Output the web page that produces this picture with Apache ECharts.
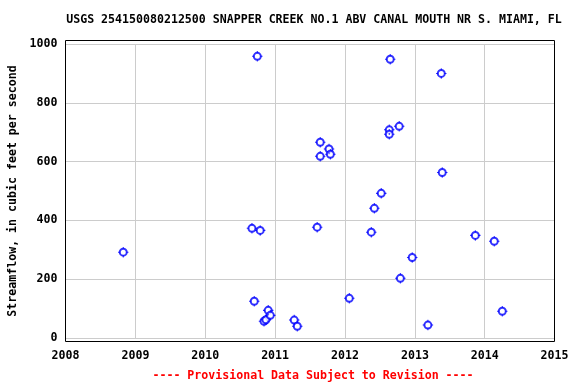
<!DOCTYPE html>
<html>
<head>
<meta charset="utf-8">
<script src="https://cdn.jsdelivr.net/npm/echarts@6/dist/echarts.min.js"></script>
<style>
html,body{margin:0;padding:0;background:#fff;}
#chart{width:576px;height:384px;}
</style>
</head>
<body>
<div id="chart"></div>
<script>
const titleText = "USGS 254150080212500 SNAPPER CREEK NO.1 ABV CANAL MOUTH NR S. MIAMI, FL";
const footerText = "---- Provisional Data Subject to Revision ----";
const yAxisTitle = "Streamflow, in cubic feet per second";

const dates = [
  "2008-10-29","2010-09-02","2010-09-14","2010-09-30","2010-10-15","2010-11-04",
  "2010-11-14","2010-11-26","2010-12-07","2011-04-11","2011-04-27","2011-08-09",
  "2011-08-25","2011-08-25","2011-10-10","2011-10-17","2012-01-24","2012-05-18",
  "2012-06-03","2012-07-09","2012-08-20","2012-08-20","2012-08-25","2012-10-11",
  "2012-10-17","2012-12-18","2013-03-10","2013-05-19","2013-05-24","2013-11-13",
  "2014-02-20","2014-04-03"
];
const flows = [
  292,373,125,958,366,57,
  62,94,77,61,40,377,
  666,618,643,625,135,360,
  441,492,708,693,948,720,
  203,274,44,900,563,349,
  329,91
];
const yearTicks = [2008,2009,2010,2011,2012,2013,2014,2015];
const yTicks = [0,200,400,600,800,1000];

const font = "'DejaVu Sans Mono', monospace";
const points = dates.map((d,i)=>{
  const p = d.split('-').map(Number);
  return [Date.UTC(p[0],p[1]-1,p[2]), flows[i]];
});
const tickPath = 'path://M9,0h2v4h-2zM9,16h2v4h-2zM0,9h4v2h-4zM16,9h4v2h-4z';

const chart = echarts.init(document.getElementById('chart'), null, {renderer:'canvas'});
chart.setOption({
  animation:false,
  backgroundColor:'#fff',
  title:[{
    text:titleText, left:309, top:9, textAlign:'center',
    textStyle:{fontFamily:font,fontSize:11.6,fontWeight:'bold',color:'#000'}
  },{
    text:footerText, left:308, top:365, textAlign:'center',
    textStyle:{fontFamily:font,fontSize:11.6,fontWeight:'bold',color:'#ff0000'}
  }],
  grid:{left:65.5,right:21.5,top:44,bottom:46,containLabel:false,outerBoundsMode:'none'},
  xAxis:{
    type:'time',
    min:Date.UTC(yearTicks[0],0,1),
    max:Date.UTC(yearTicks[yearTicks.length-1],0,1),
    splitNumber:7,
    axisLine:{show:false},
    axisTick:{show:false},
    axisLabel:{
      fontFamily:font,fontSize:11.6,fontWeight:'bold',color:'#000',margin:12,
      showMinLabel:true,showMaxLabel:true,
      formatter:function(v){return String(new Date(v).getUTCFullYear());}
    },
    splitLine:{show:true,lineStyle:{color:'#cccccc',width:1}}
  },
  yAxis:{
    type:'value',min:yTicks[0],max:yTicks[yTicks.length-1],interval:200,
    name:yAxisTitle,nameLocation:'middle',nameGap:47,
    nameTextStyle:{fontFamily:font,fontSize:11.6,fontWeight:'bold',color:'#000'},
    axisLine:{show:false},axisTick:{show:false},
    axisLabel:{fontFamily:font,fontSize:11.6,fontWeight:'bold',color:'#000',margin:8,
      formatter:function(v){return String(v);}},
    splitLine:{show:true,lineStyle:{color:'#cccccc',width:1}}
  },
  graphic:[{
    type:'rect',shape:{x:65.5,y:40.5,width:489,height:301},
    style:{fill:'none',stroke:'#000',lineWidth:1},z:100,silent:true
  }],
  series:[{
    type:'scatter',data:points,symbol:'emptyCircle',symbolSize:7,
    itemStyle:{color:'#0000ff',borderColor:'#0000ff',borderWidth:1.5},
    z:10
  },{
    type:'scatter',data:points,symbol:tickPath,symbolSize:10.5,symbolKeepAspect:true,
    itemStyle:{color:'#0000ff',borderWidth:0},
    z:11
  }]
});
</script>
</body>
</html>
